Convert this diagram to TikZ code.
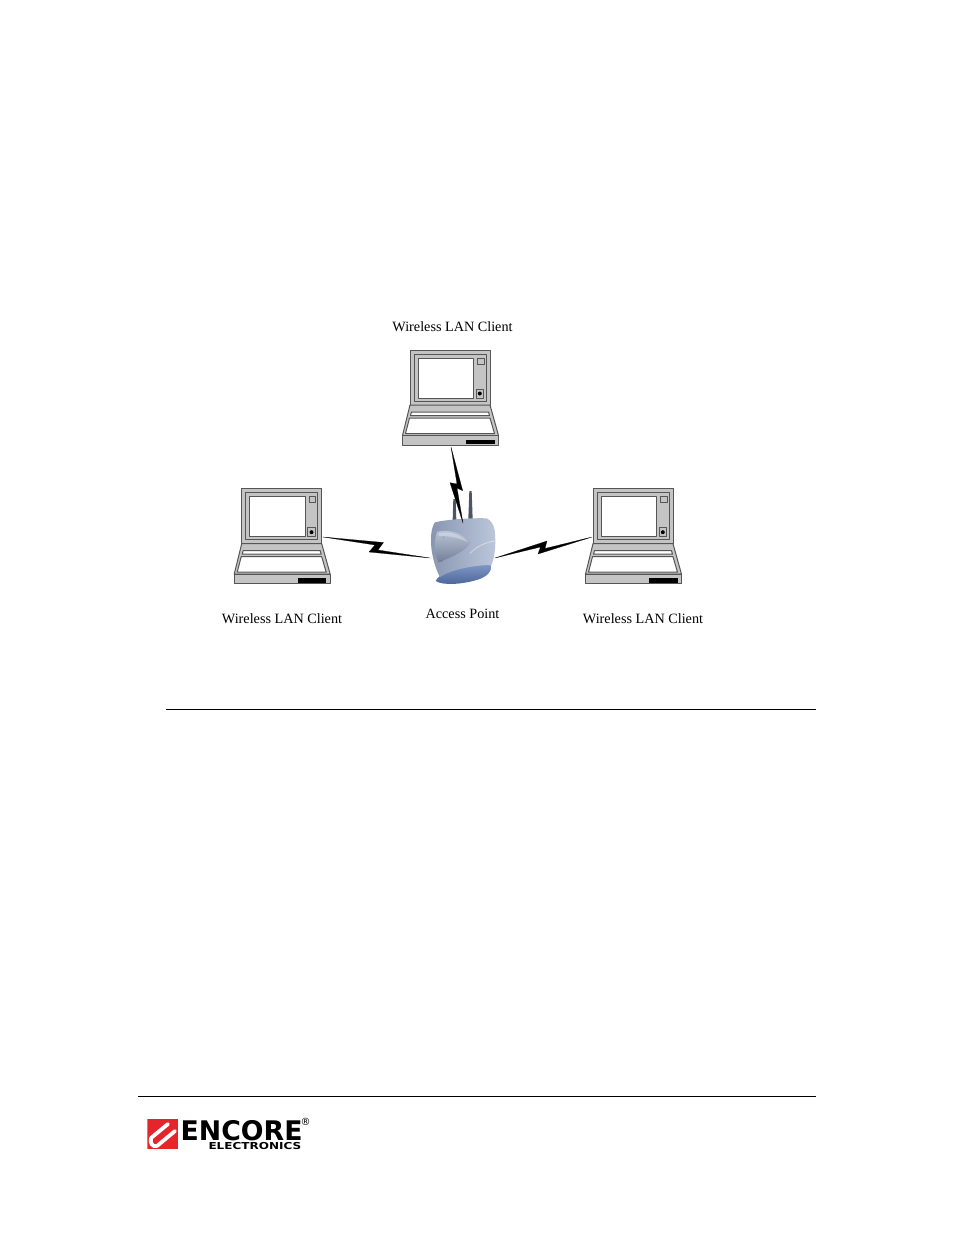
\documentclass[tikz,border=0pt]{standalone}
\usepackage{fontspec}
\setmainfont{Liberation Serif}
\newfontfamily\logofont{DejaVu Sans}
\usepackage{xcolor}
\usepackage{tikz}
\definecolor{case}{HTML}{C4C4C4}
\definecolor{edge}{HTML}{555555}
\definecolor{bodylight}{HTML}{BCC7DA}
\definecolor{bodydark}{HTML}{8896B2}
\definecolor{baseblue}{HTML}{5574B2}
\definecolor{aerial}{HTML}{4C5566}
\definecolor{logored}{HTML}{E4262C}
\tikzset{
  caseline/.style={draw=edge, fill=case, line width=1pt, line join=round},
  glass/.style={draw=edge, fill=white, line width=1pt, line join=round},
  rule/.style={draw=black, line width=0.9pt},
  zapbolt/.style={fill=black, draw=black, line width=0.2pt, line join=round},
  logostripe/.style={draw=white, line width=3.8pt, line cap=round},
  lab/.style={text=black, font=\fontsize{14.2}{17}\selectfont, inner sep=0pt},
  laptop/.pic={
    \draw[caseline] (-40,0) rectangle (40,55);
    \draw[caseline] (-36,4) rectangle (36,51);
    \draw[glass] (-32,8) rectangle (23.5,48);
    \draw[caseline] (27.5,8) rectangle (34,14);
    \draw[caseline] (26,39) rectangle (33.5,48);
    \fill[black] (29.8,43.5) circle (2);
    \draw[caseline] (-40,55) -- (40,55) -- (48.5,85.5) -- (-47.5,85.5) -- cycle;
    \draw[glass] (-38.5,62) -- (38.5,62) -- (39.5,65.5) -- (-39.5,65.5) -- cycle;
    \draw[glass] (-40.5,68) -- (40,68) -- (44.5,83.5) -- (-44.5,83.5) -- cycle;
    \draw[caseline] (-47.5,85.5) rectangle (48.5,95);
    \fill[black] (16,89.5) rectangle (44.5,94);
  },
}

\begin{document}
\begin{tikzpicture}[x=1pt,y=-1pt]
  \useasboundingbox (0,0) rectangle (954,1235);
  \fill[white] (0,0) rectangle (954,1235);
  % laptops
  \pic at (450,350) {laptop};
  \pic at (281.7,488.7) {laptop};
  \pic at (633,488.7) {laptop};
  \node[lab] (labtop) at (452.5,326.7) {Wireless LAN Client};
  \node[lab] (lableft) at (282,618.8) {Wireless LAN Client};
  \node[lab] (labright) at (643,618.8) {Wireless LAN Client};
  \node[lab] (labap) at (462.5,613.7) {Access Point};
  % access point, numbers read off the crop
  \begin{scope}[shift={(420,485)},x=0.3333pt,y=-0.3333pt]
    \fill[aerial] (98,105) -- (100,42) -- (107,42) -- (109,105) -- cycle;
    \fill[aerial] (145,102) -- (148,18) -- (155,18) -- (158,102) -- cycle;
    \shade[top color=baseblue!75!white, bottom color=baseblue!85!black]
      (47,288) .. controls (60,262) and (110,240) .. (212,238)
      .. controls (218,255) and (205,275) .. (170,285)
      .. controls (130,297) and (70,303) .. (47,288) -- cycle;
    \shade[left color=bodydark, right color=bodylight]
      (45,112) .. controls (70,105) and (150,98) .. (200,100)
      .. controls (212,105) and (222,120) .. (224,135)
      .. controls (228,170) and (226,215) .. (214,240)
      .. controls (160,240) and (90,255) .. (60,276)
      .. controls (45,250) and (32,200) .. (33,165)
      .. controls (33,140) and (38,120) .. (45,112) -- cycle;
    \shade[top color=bodylight, bottom color=bodydark!85!black]
      (52,140) .. controls (90,132) and (130,145) .. (152,172)
      .. controls (140,195) and (100,215) .. (55,232)
      .. controls (42,200) and (42,165) .. (52,140) -- cycle;
    \fill[white, opacity=0.3]
      (57,145) .. controls (95,138) and (125,150) .. (145,172)
      .. controls (120,160) and (90,152) .. (56,153) -- cycle;
    \draw[white, opacity=0.4, line width=1pt]
      (150,205) .. controls (170,185) and (195,172) .. (224,168);
    \fill[logored, opacity=0.5] (64,228) circle (3);
    \fill[green!60!gray, opacity=0.7] (70,157) circle (2.5);
  \end{scope}
  % radio links
  \coordinate (zaptopa) at (451,447);
  \coordinate (zaptopb) at (463,523);
  \coordinate (zapleftb) at (430,558);
  \coordinate (zaplefta) at (323,537);
  \coordinate (zaprighta) at (495,558);
  \coordinate (zaprightb) at (592,537);
  \fill[zapbolt] (zaptopa) -- (462.7,490.7) -- (457,488) -- (zaptopb) -- (450,482.7) -- (457,484) -- cycle;
  \fill[zapbolt] (zaplefta) -- (383.5,542.5) -- (378,550) -- (zapleftb) -- (369,552) -- (375,545) -- cycle;
  \fill[zapbolt] (zaprighta) -- (547,541) -- (545,548.5) -- (zaprightb) -- (538,554) -- (540.5,547) -- cycle;
  % page rules
  \coordinate (ruleup) at (166,709);
  \coordinate (ruleupend) at (816,709);
  \coordinate (ruledown) at (138,1096);
  \coordinate (ruledownend) at (816,1096);
  \draw[rule] (ruleup) -- (ruleupend);
  \draw[rule] (ruledown) -- (ruledownend);
  % logo
  \begin{scope}
    \clip (147.3,1119.3) rectangle (178,1149.3);
    \fill[logored] (147.3,1119.3) rectangle (178,1149.3);
    \draw[logostripe] (151,1138) -- (168,1124);
    \draw[logostripe] (157,1146) -- (175,1131);
    \draw[logostripe] (151,1138) .. controls (150,1143) and (152,1147) .. (157,1146);
  \end{scope}
  \node[font=\logofont\bfseries\fontsize{27}{27}\selectfont, xscale=0.99, inner sep=0pt, text depth=0pt, anchor=base west] (encore) at (180.5,1140.4) {ENCORE};
  \node[font=\logofont\bfseries\fontsize{9.6}{10}\selectfont, xscale=1.25, inner sep=0pt, text height=7pt, text depth=0pt, anchor=base west] (electronics) at (208.3,1149.3) {ELECTRONICS};
  \node[font=\logofont\fontsize{10}{10}\selectfont, inner sep=0pt] (regmark) at (305.7,1121.5) {®};
\end{tikzpicture}
\end{document}
